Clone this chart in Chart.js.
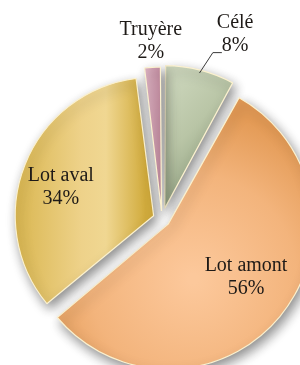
<!DOCTYPE html>
<html>
<head>
<meta charset="utf-8">
<script src="https://cdn.jsdelivr.net/npm/chart.js@4.4.0/dist/chart.umd.min.js"></script>
<style>
  html, body { margin: 0; padding: 0; background: #fff; }
</style>
</head>
<body>
<canvas id="pieChart" width="300" height="365"></canvas>
<script>
var categories = ['Célé', 'Lot amont', 'Lot aval', 'Truyère'];
var shares = [8, 56, 34, 2];
var shareLabels = ['8%', '56%', '34%', '2%'];

// how far each slice is pulled out, in px (chart.js divides offset by 4)
var explode = [11, 8, 9, 8];

function sliceFill(context) {
  var chart = context.chart;
  var area = chart.chartArea;
  if (!area) return '#cccccc';
  var g = chart.ctx;
  var cx = (area.left + area.right) / 2;
  var cy = (area.top + area.bottom) / 2;
  var grad;
  switch (context.dataIndex) {
    case 0:
      grad = g.createLinearGradient(cx - 5, cy - 120, cx + 70, cy - 50);
      grad.addColorStop(0, '#ccd6bc');
      grad.addColorStop(0.5, '#b9c5a6');
      grad.addColorStop(1, '#8f9f7f');
      break;
    case 1:
      grad = g.createRadialGradient(cx + 25, cy + 55, 5, cx + 25, cy + 55, 170);
      grad.addColorStop(0, '#fcc89b');
      grad.addColorStop(0.6, '#f3b47c');
      grad.addColorStop(1, '#e39a55');
      break;
    case 2:
      grad = g.createLinearGradient(cx - 150, 0, cx - 8, 0);
      grad.addColorStop(0, '#d6b247');
      grad.addColorStop(0.55, '#eed28a');
      grad.addColorStop(0.72, '#f0d792');
      grad.addColorStop(1, '#d1ab3c');
      break;
    default:
      grad = g.createLinearGradient(cx - 20, 0, cx, 0);
      grad.addColorStop(0, '#e3bccb');
      grad.addColorStop(1, '#c28b9f');
  }
  return grad;
}

var softShadow = {
  id: 'softShadow',
  beforeDatasetsDraw: function(chart) {
    var ctx = chart.ctx;
    ctx.save();
    ctx.shadowColor = 'rgba(0,0,0,0.45)';
    ctx.shadowBlur = 12;
    ctx.shadowOffsetX = 3;
    ctx.shadowOffsetY = 5;
  },
  afterDatasetsDraw: function(chart) {
    chart.ctx.restore();
  }
};

var sliceLabels = {
  id: 'sliceLabels',
  afterDatasetsDraw: function(chart, args, opts) {
    var ctx = chart.ctx;
    var meta = chart.getDatasetMeta(0);
    ctx.save();
    ctx.font = '20px "Liberation Serif", serif';
    ctx.fillStyle = '#1e1a17';
    ctx.textAlign = 'center';
    ctx.textBaseline = 'middle';
    meta.data.forEach(function(arc, i) {
      var p = opts.place[i];
      var mid = (arc.startAngle + arc.endAngle) / 2;
      var a = mid + p.turn * Math.PI / 180;
      var r = arc.outerRadius * p.dist;
      var x = arc.x + Math.cos(a) * r;
      var y = arc.y + Math.sin(a) * r;
      ctx.fillText(categories[i], x, y - 11.5);
      ctx.fillText(shareLabels[i], x, y + 11.5);
      if (p.leader) {
        var l = p.leader;
        var r0 = arc.outerRadius * l.from;
        var r1 = arc.outerRadius * l.to;
        var a1 = mid + l.turn * Math.PI / 180;
        var x1 = arc.x + Math.cos(a1) * r1;
        var y1 = arc.y + Math.sin(a1) * r1;
        ctx.beginPath();
        ctx.moveTo(arc.x + Math.cos(mid) * r0, arc.y + Math.sin(mid) * r0);
        ctx.lineTo(x1, y1);
        ctx.lineTo(x1 + l.tail, y1);
        ctx.strokeStyle = '#3a3a3a';
        ctx.lineWidth = 1;
        ctx.stroke();
      }
    });
    ctx.restore();
  }
};

var ctxPie = document.getElementById('pieChart').getContext('2d');
var chart = new Chart(ctxPie, {
  type: 'pie',
  data: {
    labels: categories,
    datasets: [{
      data: shares,
      backgroundColor: sliceFill,
      borderColor: '#fbf1cf',
      borderWidth: 1.2,
      offset: explode.map(function(d) { return d * 4; }),
      clip: false
    }]
  },
  options: {
    responsive: false,
    animation: false,
    devicePixelRatio: 1,
    radius: 137,
    events: [],
    layout: { padding: { left: 24, top: 73, right: 0, bottom: 0 } },
    plugins: {
      legend: { display: false },
      tooltip: { enabled: false },
      sliceLabels: {
        place: [
          { dist: 1.45, turn: 7.2, leader: { from: 1.1, to: 1.27, turn: 2.6, tail: 9 } },
          { dist: 0.745, turn: -5 },
          { dist: 0.775, turn: -4 },
          { dist: 1.3, turn: 0 }
        ]
      }
    }
  },
  plugins: [softShadow, sliceLabels]
});
</script>
</body>
</html>
